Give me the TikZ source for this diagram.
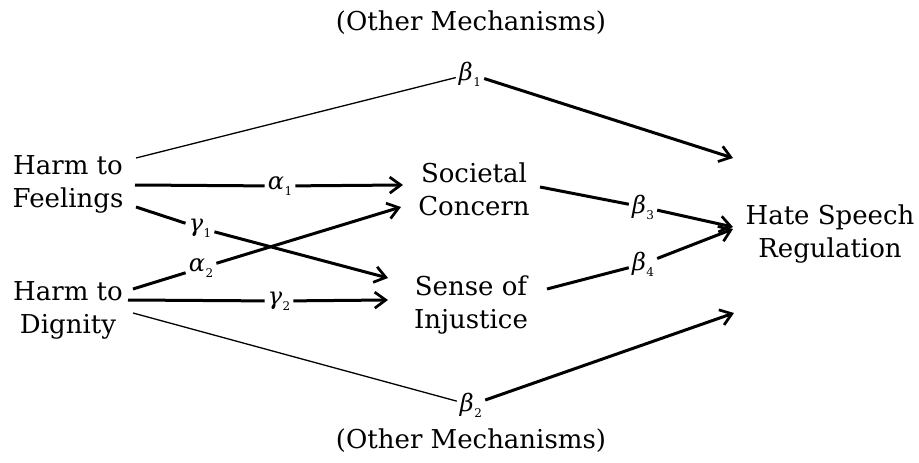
\documentclass[tikz,border=0pt]{standalone}
\usepackage{fontspec}
\setmainfont{DejaVu Serif}
\usetikzlibrary{arrows.meta}
\newcommand\gksym[2]{{\itshape #1}\kern0.5pt\raisebox{-6pt}{\fontsize{12}{12}\selectfont\upshape #2}}
\begin{document}
\begin{tikzpicture}[x=1pt,y=-1pt,
  txt/.style={align=center,font=\fontsize{26}{33}\selectfont,inner sep=0pt},
  lbl/.style={font=\fontsize{24}{26}\selectfont,inner sep=3pt},
  thickln/.style={line width=3pt},
  thinln/.style={line width=1.3pt},
  arr/.style={thickln,-{Straight Barb[length=11pt,width=16pt,line width=2.7pt]}}
]
\useasboundingbox (0,0) rectangle (919,463);
% main nodes
\node[txt] (feel) at (68,184) {Harm to\\Feelings};
\node[txt] (dign) at (68,310) {Harm to\\Dignity};
\node[txt] (soc)  at (474,189) {Societal\\Concern};
\node[txt] (sen)  at (471,305) {Sense of\\Injustice};
\node[txt] (hsr)  at (830,234) {Hate Speech\\Regulation};
\node[txt] (om1)  at (471,23) {(Other Mechanisms)};
\node[txt] (om2)  at (471,441) {(Other Mechanisms)};
% path labels
\node[lbl] (b1) at (470,74)  {\gksym{β}{1}};
\node[lbl] (a1) at (280,186) {\gksym{α}{1}};
\node[lbl] (g1) at (200,228) {\gksym{γ}{1}};
\node[lbl] (a2) at (201,268) {\gksym{α}{2}};
\node[lbl] (g2) at (279,301) {\gksym{γ}{2}};
\node[lbl] (b2) at (471,405) {\gksym{β}{2}};
\node[lbl] (b3) at (643,207) {\gksym{β}{3}};
\node[lbl] (b4) at (643,264) {\gksym{β}{4}};
% connector ends
\coordinate (fb1) at (136,158);
\coordinate (fa1) at (135,185);
\coordinate (fg1) at (136,207);
\coordinate (da2) at (133,289);
\coordinate (dg2) at (128,300);
\coordinate (db2) at (133,313);
\coordinate (ta1) at (403,185);
\coordinate (ta2) at (401,207);
\coordinate (tg1) at (388,278);
\coordinate (tg2) at (388,300);
\coordinate (sb3) at (540,187);
\coordinate (sb4) at (547,289);
\coordinate (tb1) at (733,158);
\coordinate (tb3) at (733,227);
\coordinate (tb4) at (733,229);
\coordinate (tb2) at (734,313);
% connectors
\draw[thinln] (fb1) -- (b1);
\draw[arr] (b1) -- (tb1);
\draw[thickln] (fa1) -- (a1);
\draw[arr] (a1) -- (ta1);
\draw[thickln] (fg1) -- (g1);
\draw[arr] (g1) -- (tg1);
\draw[thickln] (da2) -- (a2);
\draw[arr] (a2) -- (ta2);
\draw[thickln] (dg2) -- (g2);
\draw[arr] (g2) -- (tg2);
\draw[thinln] (db2) -- (b2);
\draw[arr] (b2) -- (tb2);
\draw[thickln] (sb3) -- (b3);
\draw[arr] (b3) -- (tb3);
\draw[thickln] (sb4) -- (b4);
\draw[arr] (b4) -- (tb4);
\end{tikzpicture}
\end{document}
